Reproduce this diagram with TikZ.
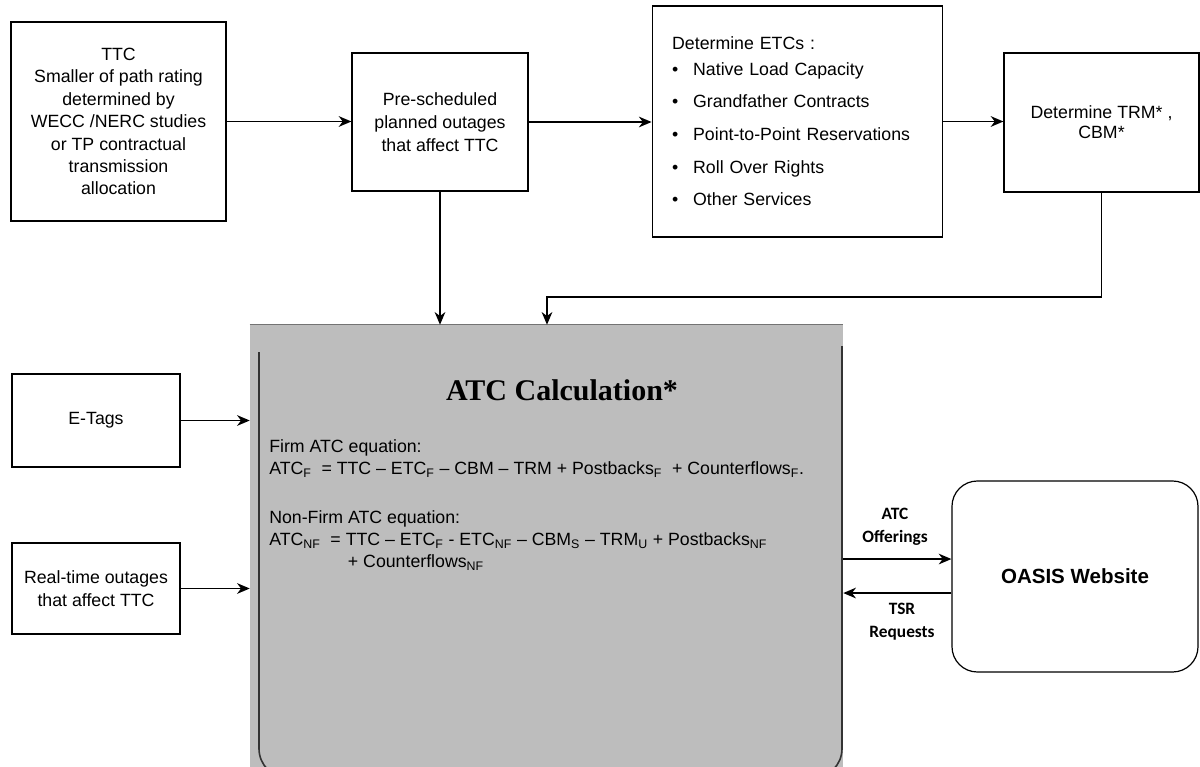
\documentclass[tikz,border=0pt]{standalone}
\usepackage{fontspec}
\setmainfont{Liberation Sans}
\newfontfamily\serifbold{Liberation Serif}
\newfontfamily\calibri{Carlito}
\usetikzlibrary{arrows.meta, positioning, calc}

\begin{document}
\begin{tikzpicture}[x=0.75pt, y=-0.75pt,
    box/.style={draw, line width=0.9pt, fill=white, align=center, inner sep=0pt,
        font=\fontsize{13.3}{16.8}\selectfont},
    conn/.style={line width=1.2pt, -{Stealth[length=9.5pt, width=8pt, inset=3pt]}},
    arrlbl/.style={align=center, font=\calibri\bfseries\fontsize{13}{17}\selectfont},
    eqn/.style={anchor=west, align=left, inner sep=0pt, font=\fontsize{13.3}{16.5}\selectfont}]
    \useasboundingbox (0,0) rectangle (1200,767);
    % top row
    \node[box, minimum width=161.25pt, minimum height=149.25pt] (ttc) at (118.5,121.5)
        {TTC\\Smaller of path rating\\determined by\\WECC /NERC studies\\or TP contractual\\transmission\\allocation};
    \node[box, minimum width=132pt, minimum height=103.5pt, font=\fontsize{13.3}{17.2}\selectfont] (pre) at (440,122)
        {Pre-scheduled\\planned outages\\that affect TTC};
    \node[box, align=left, text width=188pt, inner xsep=15pt, minimum height=173.25pt,
        font=\fontsize{13.3}{24.5}\selectfont] (etc) at (797.5,121.5)
        {Determine ETCs :\\[-5.5pt]
         \makebox[15.75pt][l]{\textbullet}Native Load Capacity\\
         \makebox[15.75pt][l]{\textbullet}Grandfather Contracts\\
         \makebox[15.75pt][l]{\textbullet}Point-to-Point Reservations\\
         \makebox[15.75pt][l]{\textbullet}Roll Over Rights\\
         \makebox[15.75pt][l]{\textbullet}Other Services};
    \node[box, minimum width=146.25pt, minimum height=104.25pt] (trm) at (1101.5,122.5)
        {Determine TRM* ,\\[-2pt]CBM*};
    % left inputs
    \node[box, minimum width=126pt, minimum height=69.75pt] (etags) at (96,420.5) {E-Tags};
    \node[box, minimum width=126pt, minimum height=68.25pt, font=\fontsize{13.3}{17.2}\selectfont] (rtout) at (96,588.5)
        {Real-time outages\\that affect TTC};
    % calculation block
    \node[fill=black!26, minimum width=444.75pt, minimum height=331.5pt, inner sep=0pt] (atc) at (546.5,546) {};
    \draw[black!55, line width=0.6pt] (atc.north west) -- (atc.north east);
    \draw[black!80, line width=1.2pt, rounded corners=22pt] (259,352) -- (259,778) -- (842,778) -- (842,346);
    \node[font=\serifbold\bfseries\fontsize{22.5}{25}\selectfont] (title) at (562,390) {ATC Calculation*};
    \node[eqn] (firm) at (269,459)
        {Firm ATC equation:\\ATC\textsubscript{F}\ \ = TTC – ETC\textsubscript{F} – CBM – TRM + Postbacks\textsubscript{F}\ \ + Counterflows\textsubscript{F}.};
    \node[eqn] (nonfirm) at (269,541)
        {Non-Firm ATC equation:\\ATC\textsubscript{NF}\ \ = TTC – ETC\textsubscript{F} - ETC\textsubscript{NF} – CBM\textsubscript{S} – TRM\textsubscript{U} + Postbacks\textsubscript{NF}\\
         \hspace*{59pt}+ Counterflows\textsubscript{NF}};
    % website
    \node[box, rounded corners=19pt, minimum width=184.5pt, minimum height=143.25pt,
        font=\bfseries\fontsize{15.4}{18}\selectfont] (oasis) at (1075,576.5) {OASIS Website};
    % connectors
    \draw[conn] (ttc.east) -- (ttc.east -| pre.west);
    \draw[conn] (pre.east) -- (pre.east -| etc.west);
    \draw[conn] (etc.east) -- (etc.east -| trm.west);
    \draw[conn] (pre.south) -- (pre.south |- atc.north);
    \coordinate (bend) at (547,297);
    \draw[conn] (trm.south) |- (bend) -- (bend |- atc.north);
    \draw[conn] (etags.east) -- (etags.east -| atc.west);
    \draw[conn] (rtout.east) -- (rtout.east -| atc.west);
    \draw[conn] ([yshift=13.1pt]oasis.west -| atc.east) -- ([yshift=13.1pt]oasis.west);
    \draw[conn] ([yshift=-12.4pt]oasis.west) -- ([yshift=-12.4pt]oasis.west -| atc.east);
    \node[arrlbl] (offer) at (895,527) {ATC\\Offerings};
    \node[arrlbl] (tsr) at (902,622) {TSR\\Requests};
\end{tikzpicture}
\end{document}
